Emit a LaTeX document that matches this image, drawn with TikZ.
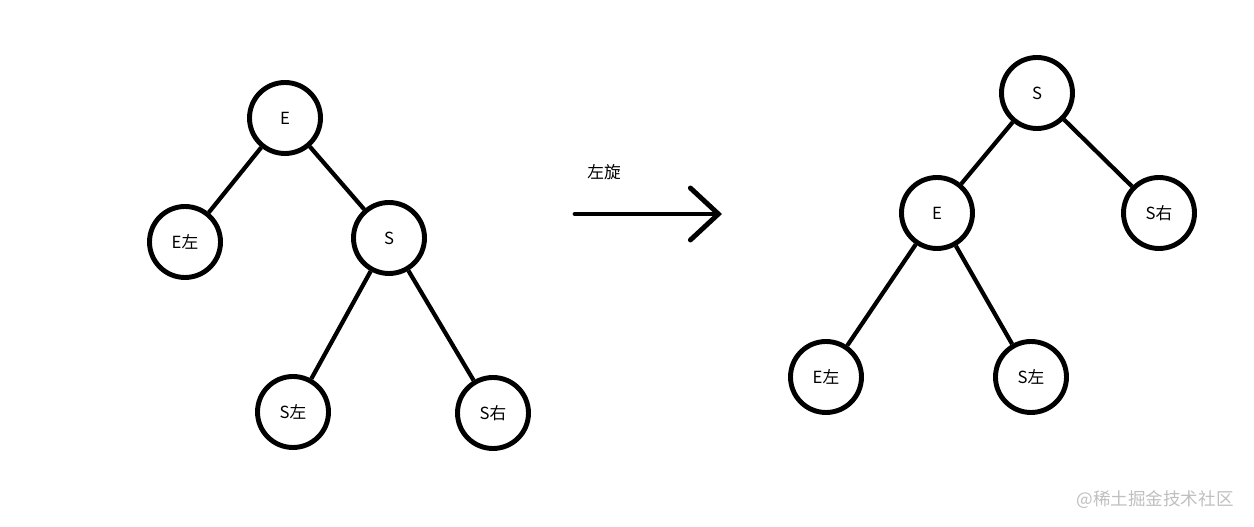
\documentclass[tikz,border=0pt]{standalone}
\usepackage{fontspec}
\setmainfont{Noto Sans CJK SC}
\usetikzlibrary{arrows.meta}

\begin{document}
\begin{tikzpicture}[main/.style = {draw, circle, line width=2.8pt, minimum size=1.42cm, inner sep=0pt, font=\fontsize{9.5pt}{11pt}\selectfont},
    edge/.style = {line width=2.4pt}]

    \useasboundingbox (0,0) rectangle (25.08,10.54);

    % Left tree
    \node[main] (E) at (5.70,8.18) {E};
    \node[main] (El) at (3.70,5.70) {E左};
    \node[main] (S) at (7.78,5.78) {S};
    \node[main] (Sl) at (5.86,2.30) {S左};
    \node[main] (Sr) at (9.86,2.28) {S右};

    % Right tree
    \node[main] (S2) at (20.74,8.68) {S};
    \node[main] (E2) at (18.74,6.28) {E};
    \node[main] (Sr2) at (23.18,6.28) {S右};
    \node[main] (El2) at (16.52,3.00) {E左};
    \node[main] (Sl2) at (20.62,3.00) {S左};

    % Edges
    \draw[edge] (E) -- (El);
    \draw[edge] (E) -- (S);
    \draw[edge] (S) -- (Sl);
    \draw[edge] (S) -- (Sr);
    \draw[edge] (S2) -- (E2);
    \draw[edge] (S2) -- (Sr2);
    \draw[edge] (E2) -- (El2);
    \draw[edge] (E2) -- (Sl2);

    % Rotation arrow
    \coordinate (a0) at (11.50,6.26);
    \coordinate (a1) at (14.44,6.26);
    \draw[line width=2.8pt, line cap=round, -{Straight Barb[length=5.6mm, width=10.4mm, line cap=round]}] (a0) -- (a1);
    \node[font=\fontsize{9.5pt}{11pt}\selectfont] (rot) at (12.08,7.10) {左旋};

    % Watermark
    \node[text=black!25, font=\fontsize{10pt}{12pt}\selectfont] (wm) at (23.10,0.54) {@稀土掘金技术社区};

\end{tikzpicture}
\end{document}
